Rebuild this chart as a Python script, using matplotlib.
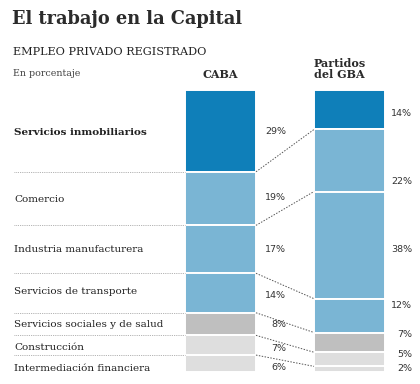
import numpy as np
import matplotlib
matplotlib.use("Agg")
import matplotlib.pyplot as plt

# data
sectors = ["Servicios inmobiliarios", "Comercio", "Industria manufacturera",
           "Servicios de transporte", "Servicios sociales y de salud",
           "Construcción", "Intermediación financiera"]
caba = [29, 19, 17, 14, 8, 7, 6]
gba = [14, 22, 38, 12, 7, 5, 2]
columns = ["CABA", "Partidos\ndel GBA"]

colors = ["#0f7fb9", "#7ab5d4", "#7ab5d4", "#7ab5d4", "#bfbfbf", "#dedede", "#dedede"]
# small nudges for label placement (in % units)
caba_shift = [0.3, -0.5, 0, 0.8, 0, 1.2, 1.3]
left_shift = [0.6, 0.2, 0, -0.5, 0, 0.7, 1.6]
gba_shift = [1.5, 7.6, 1.7, -3.5, -2.7, -1.6, -0.4]

W, H = 420, 384
fig = plt.figure(figsize=(W / 100, H / 100), dpi=100)
fig.patch.set_facecolor("white")

# bar area: y from pixel 90 to 372
ax = fig.add_axes([0, (H - 372) / H, 1, 282 / H])
px0, step = 220.5, 129.0
ax.set_xlim(-px0 / step, (W - px0) / step)
ax.set_ylim(100, 0)
ax.axis("off")

bw = 71 / step
for xi, vals in enumerate([caba, gba]):
    bottoms = np.concatenate([[0], np.cumsum(vals)[:-1]])
    ax.bar(xi, vals, bw, bottom=bottoms, color=colors, edgecolor="white", linewidth=1.4)

cb = np.cumsum(caba)
gb = np.cumsum(gba)
caba_mid = cb - np.array(caba) / 2
gba_mid = gb - np.array(gba) / 2

# connectors and left separators
for i in range(len(caba) - 1):
    ax.plot([bw / 2, 1 - bw / 2], [cb[i], gb[i]], color="#555555", lw=0.7,
            ls=(0, (1.5, 1.5)), clip_on=False)
    ax.plot([(14 - px0) / step, -bw / 2], [cb[i], cb[i]], color="#999999", lw=0.6,
            ls=(0, (1, 1.2)), clip_on=False)

lx = (14 - px0) / step
for i, name in enumerate(sectors):
    ax.text(lx, caba_mid[i] + left_shift[i], name, ha="left", va="center",
            fontsize=7.5, family="DejaVu Serif", color="#222222",
            fontweight="bold" if i == 0 else "normal", clip_on=False)
    ax.text((286 - px0) / step, caba_mid[i] + caba_shift[i], f"{caba[i]}%",
            ha="right", va="center", fontsize=6.8, color="#333333", clip_on=False)
    ax.text((412 - px0) / step, gba_mid[i] + gba_shift[i], f"{gba[i]}%",
            ha="right", va="center", fontsize=6.8, color="#333333", clip_on=False)

# column headers
ax.text(0, -3.5, columns[0], ha="center", va="bottom", fontsize=8,
        family="DejaVu Serif", color="#2b2b2b", fontweight="bold", clip_on=False)
ax.text(1 - bw / 2, -3.5, columns[1], ha="left", va="bottom", fontsize=8,
        family="DejaVu Serif", color="#2b2b2b", fontweight="bold", linespacing=1.0,
        clip_on=False)

# titles
fig.text(12 / W, 1 - 19 / H, "El trabajo en la Capital", ha="left", va="center",
         fontsize=12.8, family="DejaVu Serif", color="#2b2b2b", fontweight="bold")
fig.text(13 / W, 1 - 52 / H, "EMPLEO PRIVADO REGISTRADO", ha="left", va="center",
         fontsize=8.1, family="DejaVu Serif", color="#222222")
fig.text(13 / W, 1 - 73 / H, "En porcentaje", ha="left", va="center",
         fontsize=6.8, family="DejaVu Serif", color="#444444")

fig.savefig("out.png", dpi=100, facecolor="white")
